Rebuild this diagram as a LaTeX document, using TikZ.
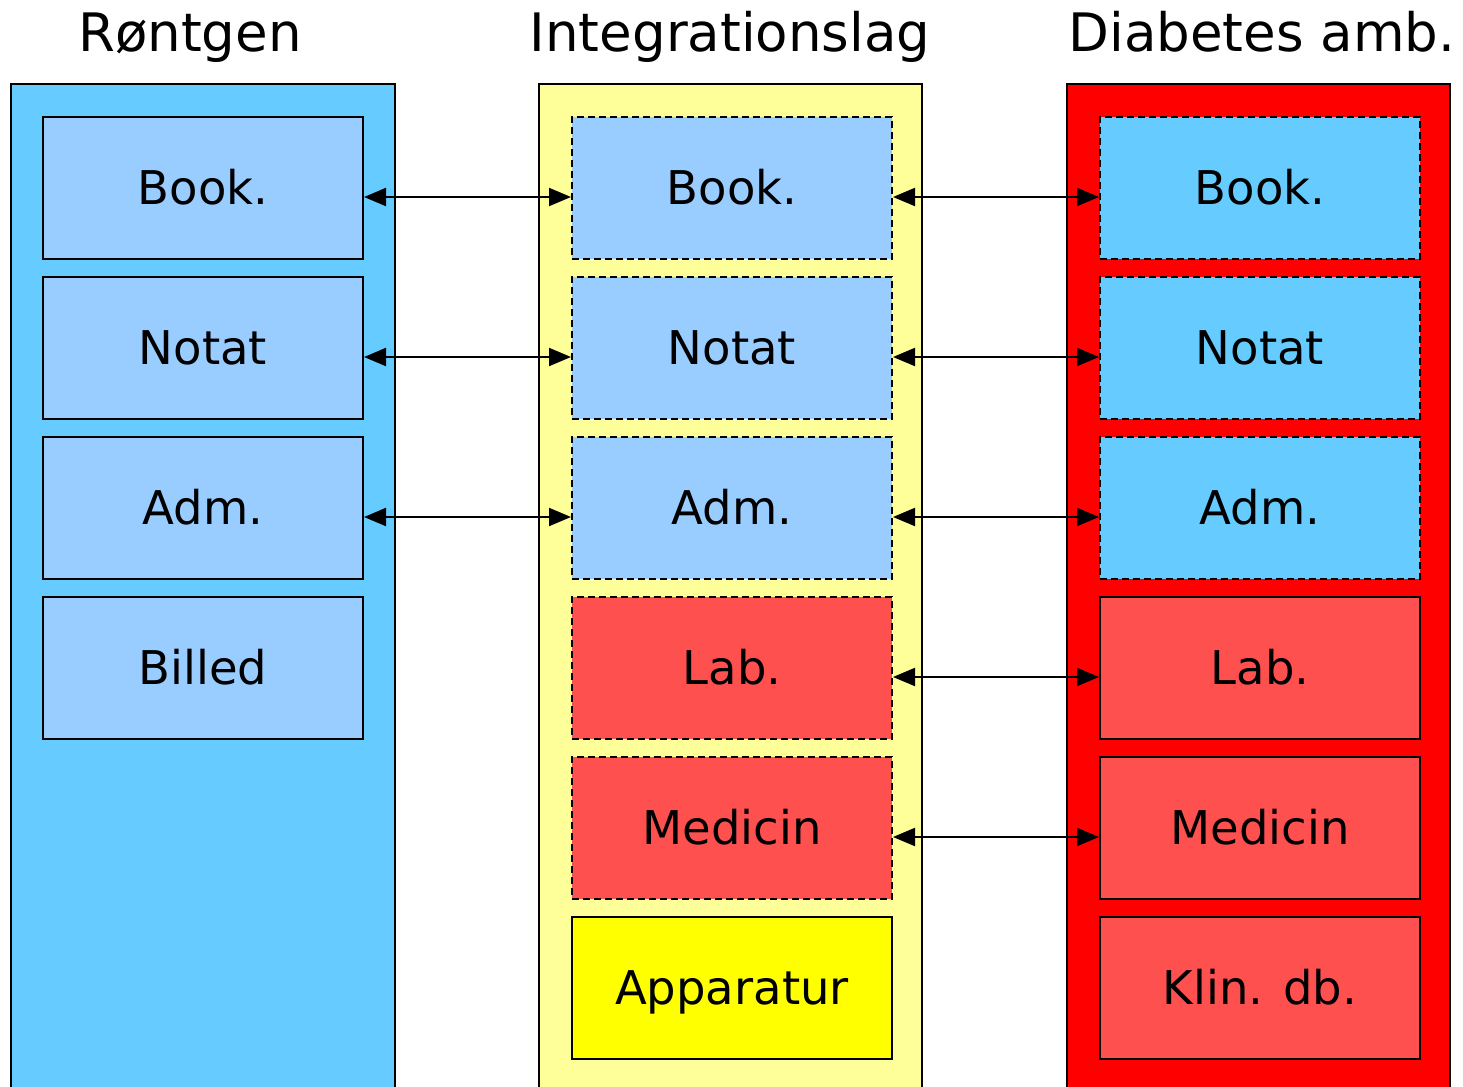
\documentclass[tikz,border=0pt]{standalone}
\usepackage{fontspec}
\setmainfont{DejaVu Sans}
\usetikzlibrary{arrows.meta}
\definecolor{colbig}{HTML}{66CCFF}
\definecolor{colbox}{HTML}{99CCFF}
\definecolor{colmid}{HTML}{FFFF99}
\definecolor{colred}{HTML}{FF0000}
\definecolor{collab}{HTML}{FF5050}
\definecolor{colapp}{HTML}{FFFF00}
\tikzset{
  box/.style={draw=black, line width=1pt, rectangle, anchor=north west,
    minimum width=160pt, minimum height=71pt, inner sep=0pt,
    text height=17pt, text depth=1pt,
    font=\fontsize{23.25pt}{28pt}\selectfont},
  dbox/.style={box, dash pattern=on 3.5pt off 2pt},
  heading/.style={anchor=base, inner sep=0pt, font=\fontsize{26.5pt}{32pt}\selectfont},
  link/.style={line width=1pt, {Triangle[length=11pt,width=9pt]}-{Triangle[length=11pt,width=9pt]}}
}
\begin{document}
\begin{tikzpicture}[x=0.5pt,y=-0.5pt]
\useasboundingbox (0,0) rectangle (1463,1087);
% containers
\fill[colbig] (11,84) rectangle (395,1087);
\draw[line width=1pt] (11,1087) -- (11,84) -- (395,84) -- (395,1087);
\fill[colmid] (539,84) rectangle (922,1087);
\draw[line width=1pt] (539,1087) -- (539,84) -- (922,84) -- (922,1087);
\fill[colred] (1067,84) rectangle (1450,1087);
\draw[line width=1pt] (1067,1087) -- (1067,84) -- (1450,84) -- (1450,1087);
% headings
\node[heading] (h1) at (190,51) {Røntgen};
\node[heading] (h2) at (730,51) {Integrationslag};
\node[heading] (h3) at (1262,51) {Diabetes amb.};
% left column
\node[box, fill=colbox] (l1) at (42,116) {Book.};
\node[box, fill=colbox] (l2) at (42,276) {Notat};
\node[box, fill=colbox] (l3) at (42,436) {Adm.};
\node[box, fill=colbox] (l4) at (42,596) {Billed};
% middle column
\node[dbox, fill=colbox] (m1) at (571,116) {Book.};
\node[dbox, fill=colbox] (m2) at (571,276) {Notat};
\node[dbox, fill=colbox] (m3) at (571,436) {Adm.};
\node[dbox, fill=collab] (m4) at (571,596) {Lab.};
\node[dbox, fill=collab] (m5) at (571,756) {Medicin};
\node[box, fill=colapp] (m6) at (571,916) {Apparatur};
% right column
\node[dbox, fill=colbig] (r1) at (1099,116) {Book.};
\node[dbox, fill=colbig] (r2) at (1099,276) {Notat};
\node[dbox, fill=colbig] (r3) at (1099,436) {Adm.};
\node[box, fill=collab] (r4) at (1099,596) {Lab.};
\node[box, fill=collab] (r5) at (1099,756) {Medicin};
\node[box, fill=collab] (r6) at (1099,916) {Klin. db.};
% connectors
\foreach \i in {1,2,3}{
  \draw[link] ([yshift=-4.5pt]l\i.east) -- ([yshift=-4.5pt]m\i.west);
}
\foreach \i in {1,...,5}{
  \draw[link] ([yshift=-4.5pt]m\i.east) -- ([yshift=-4.5pt]r\i.west);
}
\end{tikzpicture}
\end{document}
